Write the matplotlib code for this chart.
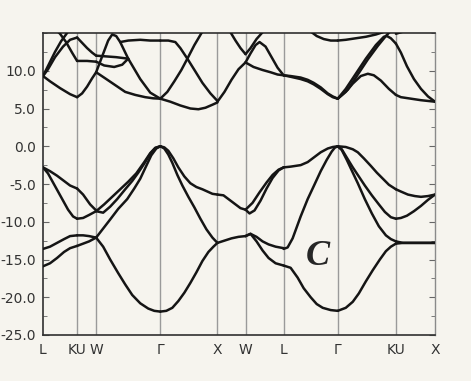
import matplotlib.pyplot as plt

plt.rcParams["axes.unicode_minus"] = False

# high-symmetry points along the path (path length units) and their labels
kpts = [0, 34, 53, 117, 174, 202, 240, 294, 352, 391]
klabels = ["L", "KU", "W", "Γ", "X", "W", "L", "Γ", "KU", "X"]

# energy axis (eV)
e_min, e_max = -25.0, 15.0
e_ticks = [-25.0, -20.0, -15.0, -10.0, -5.0, 0.0, 5.0, 10.0]

# bands per path segment, each band a list of (k, E) points
bands_L_K = [
    [(0, -15.9), (7, -15.5), (14, -14.8), (21, -14.0), (27, -13.5), (34, -13.2)],
    [(0, -13.6), (7, -13.3), (14, -12.8), (21, -12.3), (27, -11.9), (34, -11.8)],
    [(0, -2.8), (7, -3.3), (14, -3.9), (21, -4.6), (27, -5.2), (34, -5.6)],
    [(0, -2.8), (5, -3.6), (10, -4.8), (15, -6.0), (20, -7.2), (25, -8.4), (30, -9.3), (34, -9.6)],
    [(0, 9.3), (7, 8.6), (17, 7.7), (27, 6.9), (34, 6.5)],
    [(0, 9.3), (5, 10.2), (12, 11.8), (20, 13.2), (27, 14.1), (34, 14.4)],
    [(0, 9.3), (6, 10.9), (12, 12.5), (18, 13.9), (24, 15.0), (27, 15.6)],
    [(13, 15.4), (17, 14.9), (23, 13.8), (29, 12.4), (34, 11.3)],
]

bands_U_W = [
    [(34, -13.2), (40, -12.9), (46, -12.6), (53, -12.1)],
    [(34, -11.8), (40, -11.8), (46, -11.9), (53, -12.1)],
    [(34, -5.6), (40, -6.4), (47, -7.7), (53, -8.5)],
    [(34, -9.6), (40, -9.5), (46, -9.1), (53, -8.6)],
    [(34, 6.5), (39, 7.0), (44, 7.9), (49, 9.0), (53, 9.8)],
    [(34, 14.4), (39, 13.7), (44, 13.0), (49, 12.4), (53, 12.0)],
    [(34, 11.3), (44, 11.3), (53, 11.2)],
]

bands_W_G = [
    [(53, -12.1), (60, -13.3), (67, -15.0), (75, -16.8), (82, -18.3), (89, -19.7),
     (97, -20.8), (105, -21.5), (111, -21.8), (117, -21.9)],
    [(53, -12.1), (60, -10.9), (67, -9.7), (75, -8.3), (84, -7.0), (91, -5.6),
     (97, -4.3), (103, -2.6), (108, -1.2), (113, -0.3), (117, 0.0)],
    [(53, -8.6), (61, -7.7), (69, -6.7), (77, -5.7), (85, -4.7), (93, -3.6),
     (101, -2.1), (107, -0.9), (112, -0.2), (117, 0.0)],
    [(53, -8.6), (60, -8.8), (67, -8.0), (74, -7.0), (82, -5.7), (89, -4.6),
     (95, -3.5), (101, -2.3), (107, -1.0), (112, -0.25), (117, 0.0)],
    [(53, 9.8), (57, 11.2), (61, 12.6), (65, 14.0), (69, 14.8), (73, 14.6),
     (77, 13.8), (85, 11.6), (97, 8.9), (107, 7.1), (117, 6.3)],
    [(53, 9.8), (62, 9.0), (72, 8.1), (82, 7.2), (92, 6.8), (102, 6.5), (110, 6.35), (117, 6.3)],
    [(53, 12.0), (63, 11.9), (73, 11.8), (85, 11.6)],
    [(53, 11.2), (61, 10.7), (71, 10.5), (79, 10.8), (85, 11.6)],
    [(77, 13.8), (85, 14.0), (97, 14.1), (107, 14.0), (117, 14.0)],
]

bands_G_X = [
    [(117, 0.0), (121, -0.15), (125, -0.6), (130, -1.6), (135, -2.8), (141, -4.0), (147, -4.9),
     (153, -5.4), (159, -5.7), (164, -6.0), (169, -6.3), (174, -6.4)],
    [(117, 0.0), (121, -0.3), (125, -1.1), (129, -2.2), (134, -3.8), (139, -5.2), (145, -6.7),
     (151, -8.1), (157, -9.6), (163, -11.0), (169, -12.1), (174, -12.8)],
    [(117, -21.9), (123, -21.8), (129, -21.4), (135, -20.5), (141, -19.4), (147, -18.1),
     (153, -16.7), (159, -15.2), (165, -14.0), (170, -13.3), (174, -12.8)],
    [(117, 6.3), (127, 5.9), (137, 5.4), (147, 5.0), (155, 4.9), (162, 5.1), (169, 5.5), (174, 5.8)],
    [(117, 6.3), (124, 7.2), (131, 8.6), (138, 10.1), (144, 11.6), (151, 13.4), (159, 15.2)],
    [(117, 14.0), (125, 14.0), (132, 13.8), (137, 13.0), (144, 11.6), (152, 9.9),
     (159, 8.4), (167, 7.0), (174, 6.0)],
]

bands_X_W = [
    [(174, -6.4), (180, -6.5), (186, -7.1), (192, -7.7), (197, -8.2), (202, -8.4)],
    [(174, -12.8), (181, -12.5), (188, -12.2), (195, -12.0), (202, -11.9)],
    [(174, 5.9), (181, 7.2), (188, 8.8), (195, 10.2), (202, 11.1)],
    [(187, 15.1), (192, 14.0), (197, 13.0), (202, 12.2)],
]

bands_W_L = [
    [(202, -8.4), (209, -7.5), (216, -6.1), (223, -4.8), (229, -3.8), (235, -3.1), (240, -2.8)],
    [(202, -8.4), (206, -8.9), (211, -8.5), (217, -7.2), (223, -5.6), (229, -4.2), (235, -3.2), (240, -2.8)],
    [(202, -11.9), (207, -11.6), (213, -12.0), (219, -12.6), (225, -13.0), (232, -13.3), (240, -13.5)],
    [(202, -11.9), (207, -11.6), (213, -12.6), (219, -13.8), (225, -14.8), (232, -15.5), (240, -15.8)],
    [(202, 12.2), (207, 13.0), (213, 14.2), (219, 15.1)],
    [(202, 11.1), (207, 12.3), (212, 13.4), (216, 13.8), (222, 13.2), (228, 11.8), (234, 10.4), (240, 9.4)],
    [(202, 11.1), (210, 10.5), (219, 10.1), (227, 9.8), (234, 9.5), (240, 9.4)],
]

bands_L_G = [
    [(240, -2.8), (247, -2.7), (257, -2.5), (264, -2.1), (270, -1.5), (277, -0.8),
     (284, -0.3), (289, -0.1), (294, 0.0)],
    [(240, -13.6), (244, -13.4), (249, -12.2), (257, -9.3), (264, -7.0), (270, -5.3),
     (277, -3.3), (283, -1.8), (288, -0.7), (291, -0.2), (294, 0.0)],
    [(240, -15.8), (247, -16.1), (254, -17.4), (260, -18.8), (267, -20.0), (273, -20.9),
     (279, -21.4), (287, -21.7), (294, -21.8)],
    [(240, 9.4), (247, 9.3), (257, 9.1), (264, 8.8), (270, 8.4), (277, 7.8), (284, 7.0), (289, 6.6), (294, 6.3)],
    [(240, 9.4), (247, 9.2), (257, 8.9), (264, 8.6), (270, 8.2), (277, 7.6), (284, 6.9), (289, 6.5), (294, 6.3)],
    [(267, 15.2), (273, 14.6), (280, 14.2), (287, 14.0), (294, 14.0)],
]

bands_G_K = [
    [(294, 0.0), (302, -0.1), (309, -0.4), (314, -0.8), (320, -1.6), (327, -2.6),
     (333, -3.5), (339, -4.3), (345, -5.1), (352, -5.7)],
    [(294, 0.0), (298, -0.4), (303, -1.5), (309, -2.8), (314, -3.8), (321, -5.2), (328, -6.5),
     (335, -7.7), (341, -8.7), (347, -9.4), (352, -9.6)],
    [(294, 0.0), (298, -0.5), (303, -1.8), (309, -3.5), (314, -4.9), (321, -7.0), (328, -8.9),
     (335, -10.6), (342, -11.8), (347, -12.3), (352, -12.6)],
    [(294, -21.8), (302, -21.4), (309, -20.6), (315, -19.5), (322, -17.9), (329, -16.4),
     (336, -15.0), (342, -13.9), (347, -13.3), (352, -12.9)],
    [(294, 14.0), (302, 14.1), (312, 14.3), (322, 14.5), (332, 14.8), (339, 15.1)],
    [(294, 6.3), (302, 7.6), (312, 9.6), (322, 11.6), (332, 13.4), (340, 14.5), (343, 14.6), (347, 14.3), (352, 13.6)],
    [(294, 6.3), (304, 7.5), (314, 9.5), (324, 11.5), (334, 13.3), (342, 14.6), (347, 15.3)],
    [(294, 6.3), (302, 7.2), (309, 8.3), (317, 9.3), (324, 9.6), (330, 9.4), (337, 8.7), (345, 7.6), (352, 6.8)],
]

bands_U_X = [
    [(352, -5.7), (357, -6.0), (364, -6.4), (371, -6.6), (377, -6.7), (384, -6.6), (391, -6.4)],
    [(352, -9.6), (357, -9.5), (363, -9.2), (370, -8.6), (377, -7.9), (384, -7.1), (391, -6.4)],
    [(352, -12.6), (359, -12.8), (391, -12.8)],
    [(352, -12.9), (359, -12.8), (391, -12.8)],
    [(352, 6.8), (357, 6.5), (367, 6.3), (377, 6.1), (391, 5.9)],
    [(352, 13.6), (357, 12.4), (363, 10.6), (370, 8.9), (377, 7.6), (384, 6.6), (391, 5.9)],
    [(352, 14.9), (362, 15.3)],
]

segments = [bands_L_K, bands_U_W, bands_W_G, bands_G_X, bands_X_W,
            bands_W_L, bands_L_G, bands_G_K, bands_U_X]

paper = "#f6f4ee"
ink = "#151515"

fig = plt.figure(figsize=(4.71, 3.81), dpi=100, facecolor=paper)
ax = fig.add_axes([43 / 471, 1 - 335 / 381, 392 / 471, 302 / 381])
ax.set_facecolor(paper)

for k in kpts[1:-1]:
    ax.axvline(k, color="#9a9a9a", lw=1.0, zorder=1)

for seg in segments:
    for band in seg:
        ks = [p[0] for p in band]
        es = [p[1] for p in band]
        ax.plot(ks, es, color=ink, lw=1.8, solid_capstyle="round",
                solid_joinstyle="round", zorder=3)

ax.set_xlim(kpts[0], kpts[-1])
ax.set_ylim(e_min, e_max)

ax.set_xticks(kpts)
ax.set_xticklabels(klabels)
ax.set_yticks(e_ticks)
ax.set_yticklabels(["%.1f" % e for e in e_ticks])
ax.set_yticks([e_min + 2.5 * i for i in range(17)], minor=True)
ax.tick_params(axis="x", length=0, pad=6, labelsize=10, labelcolor="#333333")
ax.tick_params(axis="y", which="both", direction="in", right=True,
               labelsize=10, labelcolor="#333333", color="#666666")
ax.tick_params(axis="y", which="major", length=4, pad=5)
ax.tick_params(axis="y", which="minor", length=3)

for side in ["left", "bottom", "top"]:
    ax.spines[side].set_color("#303030")
    ax.spines[side].set_linewidth(1.2)
ax.spines["right"].set_color("#8a8a8a")
ax.spines["right"].set_linewidth(1.0)

ax.text(273.7, -14.6, "C", fontsize=26, style="italic", weight="bold",
        family="Liberation Serif", color="#262626", ha="center", va="center", zorder=4)

fig.savefig("out.png", dpi=100, facecolor=paper)
